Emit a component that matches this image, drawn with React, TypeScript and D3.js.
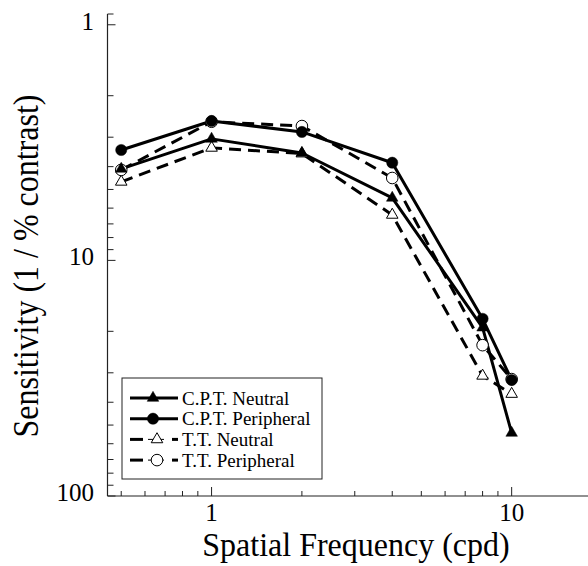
import React from "react";
import * as d3 from "d3";

const freqs = [0.5, 1, 2, 4, 8, 10];
const cptNeutral = [4.09, 3.05, 3.5, 5.43, 19.3, 54.0];
const cptPeripheral = [3.4, 2.56, 2.85, 3.85, 17.7, 32.2];
const ttNeutral = [4.64, 3.33, 3.52, 6.41, 30.9, 36.9];
const ttPeripheral = [4.13, 2.58, 2.69, 4.47, 22.9, 31.9];

const seriesNames = ["C.P.T. Neutral", "C.P.T. Peripheral", "T.T. Neutral", "T.T. Peripheral"];
const xMajorTicks = [1, 10];
const xMinorTicks = [0.5, 0.6, 0.7, 0.8, 0.9, 2, 3, 4, 5, 6, 7, 8, 9];
const yMajorTicks = [1, 10, 100];
const yMinorTicks = [2, 3, 4, 5, 6, 7, 8, 9, 20, 30, 40, 50, 60, 70, 80, 90];
const xTitle = "Spatial Frequency (cpd)";
const yTitle = "Sensitivity (1 / % contrast)";

const W = 588;
const H = 566;
const FONT = '"Liberation Serif", "Times New Roman", Times, "DejaVu Serif", serif';

const x = d3.scaleLog().domain([0.45, 20]).range([107.5, 602]);
const y = d3.scaleLog().domain([0.9, 100]).range([14, 496]);

type Series = {
  name: string;
  values: number[];
  dashed: boolean;
  shape: "triangle" | "circle";
  filled: boolean;
};

const series: Series[] = [
  { name: seriesNames[2], values: ttNeutral, dashed: true, shape: "triangle", filled: false },
  { name: seriesNames[3], values: ttPeripheral, dashed: true, shape: "circle", filled: false },
  { name: seriesNames[0], values: cptNeutral, dashed: false, shape: "triangle", filled: true },
  { name: seriesNames[1], values: cptPeripheral, dashed: false, shape: "circle", filled: true },
];

const legendOrder = [2, 3, 0, 1];

const line = d3
  .line<number>()
  .x((_, i) => x(freqs[i]))
  .y((d) => y(d));

const triPath = d3.symbol(d3.symbolTriangle, 58)()!;

function Marker({ s, cx, cy }: { s: Series; cx: number; cy: number }) {
  const fill = s.filled ? "#000" : "#fff";
  const stroke = "#000";
  const sw = s.filled ? 0.5 : 1;
  if (s.shape === "circle") {
    return <circle cx={cx} cy={cy} r={s.filled ? 5.6 : 5.8} fill={fill} stroke={stroke} strokeWidth={sw} />;
  }
  return <path d={triPath} transform={`translate(${cx},${cy})`} fill={fill} stroke={stroke} strokeWidth={sw} />;
}

const textStyle: React.CSSProperties = { fontFamily: FONT };

export default function App() {
  const axisColor = "#222";
  return (
    <svg
      width={W}
      height={H}
      style={{ position: "absolute", left: 0, top: 0, background: "#fff", fontFamily: FONT }}
    >
      {/* axes */}
      <line x1={x(0.45)} x2={W} y1={y(100)} y2={y(100)} stroke={axisColor} strokeWidth={1.2} />
      <line x1={x(0.45)} x2={x(0.45)} y1={y(0.9)} y2={y(100)} stroke={axisColor} strokeWidth={1.2} />
      <line x1={x(0.45)} x2={x(0.45) + 6} y1={y(0.9)} y2={y(0.9)} stroke={axisColor} strokeWidth={1} />
      {xMinorTicks.map((t) => (
        <line key={"xm" + t} x1={x(t)} x2={x(t)} y1={y(100)} y2={y(100) - 5} stroke={axisColor} strokeWidth={1} />
      ))}
      {xMajorTicks.map((t) => (
        <g key={"xM" + t}>
          <line x1={x(t)} x2={x(t)} y1={y(100)} y2={y(100) - 9} stroke={axisColor} strokeWidth={1} />
          <text x={x(t)} y={521} fontSize={25} textAnchor="middle" style={textStyle}>
            {t}
          </text>
        </g>
      ))}
      {yMinorTicks.map((t) => (
        <line key={"ym" + t} x1={x(0.45)} x2={x(0.45) + 6} y1={y(t)} y2={y(t)} stroke={axisColor} strokeWidth={1} />
      ))}
      {yMajorTicks.map((t) => (
        <g key={"yM" + t}>
          <line x1={x(0.45)} x2={x(0.45) + 8} y1={y(t)} y2={y(t)} stroke={axisColor} strokeWidth={1} />
          <text x={94} y={y(t) + 5} fontSize={25} textAnchor="end" style={textStyle}>
            {t}
          </text>
        </g>
      ))}

      {/* titles */}
      <text transform={`translate(356,556) scale(1,1.08)`} fontSize={32} textAnchor="middle" style={textStyle}>
        {xTitle}
      </text>
      <text transform={`translate(38,266) rotate(-90) scale(1,1.15)`} fontSize={32} textAnchor="middle" style={textStyle}>
        {yTitle}
      </text>

      {/* lines */}
      {series.map((s) => (
        <path
          key={"l" + s.name}
          d={line(s.values)!}
          fill="none"
          stroke="#000"
          strokeWidth={3}
          strokeDasharray={s.dashed ? "12 7" : undefined}
          strokeLinejoin="round"
        />
      ))}
      {/* markers */}
      {series.map((s) => (
        <g key={"m" + s.name}>
          {s.values.map((v, i) => (
            <Marker key={i} s={s} cx={x(freqs[i])} cy={y(v)} />
          ))}
        </g>
      ))}

      {/* legend */}
      <rect x={122} y={378} width={200} height={101} fill="#fff" stroke="#222" strokeWidth={1} />
      {legendOrder.map((si, k) => {
        const s = series[si];
        const ly = 398 + k * 20.7;
        return (
          <g key={"lg" + s.name}>
            {s.dashed ? (
              <>
                <line x1={130} x2={143} y1={ly} y2={ly} stroke="#000" strokeWidth={3} />
                <line x1={148} x2={164} y1={ly} y2={ly} stroke="#000" strokeWidth={1} />
                <line x1={172} x2={178} y1={ly} y2={ly} stroke="#000" strokeWidth={3} />
                <Marker s={s} cx={157} cy={ly} />
              </>
            ) : (
              <>
                <line x1={130} x2={178} y1={ly} y2={ly} stroke="#000" strokeWidth={3} />
                <Marker s={s} cx={153} cy={ly} />
              </>
            )}
            <text x={182} y={ly + 6.5} fontSize={19} style={textStyle}>
              {s.name}
            </text>
          </g>
        );
      })}
    </svg>
  );
}
